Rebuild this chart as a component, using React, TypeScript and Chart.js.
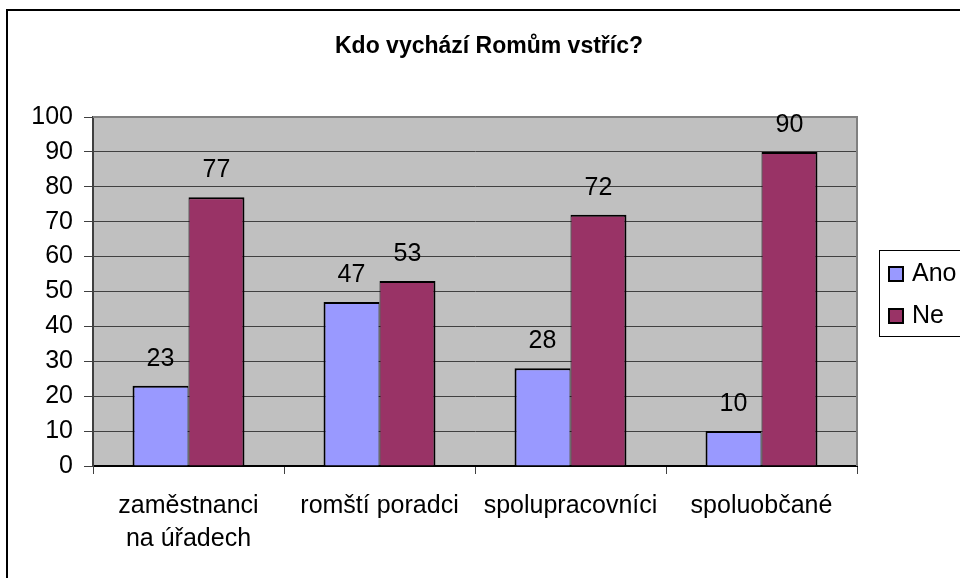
import React, { useEffect, useRef } from "react";
import { Chart, registerables } from "chart.js";

Chart.register(...registerables);

const title = "Kdo vychází Romům vstříc?";
const categories: (string | string[])[] = [
  ["zaměstnanci", "na úřadech"],
  "romští poradci",
  "spolupracovníci",
  "spoluobčané",
];
const seriesNames = ["Ano", "Ne"];
const anoValues = [23, 47, 28, 10];
const neValues = [77, 53, 72, 90];
const seriesColors = ["#9999FF", "#993366"];

const FONT = "'Liberation Sans', Arial, sans-serif";

const decorPlugin = {
  id: "decor",
  beforeDraw(chart: any) {
    const { ctx, chartArea } = chart;
    ctx.save();
    ctx.fillStyle = "#ffffff";
    ctx.fillRect(0, 0, chart.width, chart.height);
    // outer frame
    ctx.strokeStyle = "#000";
    ctx.lineWidth = 2;
    ctx.strokeRect(7, 10, 1100, 700);
    // plot area
    ctx.fillStyle = "#C0C0C0";
    ctx.fillRect(chartArea.left, chartArea.top, chartArea.right - chartArea.left, chartArea.bottom - chartArea.top);
    ctx.restore();
  },
  beforeDatasetsDraw(chart: any) {
    const { ctx, chartArea } = chart;
    ctx.save();
    ctx.strokeStyle = "#808080";
    ctx.lineWidth = 2;
    ctx.beginPath();
    ctx.moveTo(chartArea.left, chartArea.top);
    ctx.lineTo(chartArea.right, chartArea.top);
    ctx.lineTo(chartArea.right, chartArea.bottom);
    ctx.stroke();
    ctx.restore();
  },
  afterDatasetsDraw(chart: any) {
    const { ctx } = chart;
    ctx.save();
    ctx.font = `25px ${FONT}`;
    ctx.fillStyle = "#000";
    ctx.textAlign = "center";
    ctx.textBaseline = "alphabetic";
    chart.data.datasets.forEach((ds: any, di: number) => {
      const meta = chart.getDatasetMeta(di);
      meta.data.forEach((bar: any, i: number) => {
        ctx.fillText(String(ds.data[i]), bar.x, bar.y - 20);
      });
    });
    ctx.restore();
  },
  afterDraw(chart: any) {
    const { ctx } = chart;
    ctx.save();
    // title
    ctx.fillStyle = "#000";
    ctx.font = `bold 23px ${FONT}`;
    ctx.textAlign = "center";
    ctx.textBaseline = "alphabetic";
    ctx.fillText(title, 489, 53);
    // legend
    ctx.strokeStyle = "#000";
    ctx.lineWidth = 1;
    ctx.strokeRect(879.5, 250.5, 200, 86);
    ctx.font = `25px ${FONT}`;
    ctx.textAlign = "left";
    seriesNames.forEach((name, i) => {
      const y = 267 + i * 42;
      ctx.fillStyle = seriesColors[i];
      ctx.fillRect(889, y, 14, 14);
      ctx.strokeStyle = "#000";
      ctx.lineWidth = 2;
      ctx.strokeRect(889, y, 14, 14);
      ctx.fillStyle = "#000";
      ctx.fillText(name, 912, y + 14);
    });
    ctx.restore();
  },
};

export default function App() {
  const ref = useRef<HTMLCanvasElement>(null);
  useEffect(() => {
    if (!ref.current) return;
    const chart = new Chart(ref.current, {
      type: "bar",
      data: {
        labels: categories,
        datasets: [
          {
            label: seriesNames[0],
            data: anoValues,
            backgroundColor: seriesColors[0],
            borderColor: "#000",
            borderWidth: { left: 2, top: 2, right: 1, bottom: 0 },
            borderSkipped: "start",
            categoryPercentage: 0.586,
            barPercentage: 1,
          },
          {
            label: seriesNames[1],
            data: neValues,
            backgroundColor: seriesColors[1],
            borderColor: "#000",
            borderWidth: { left: 1, top: 2, right: 2, bottom: 0 },
            borderSkipped: "start",
            categoryPercentage: 0.586,
            barPercentage: 1,
          },
        ],
      },
      options: {
        responsive: false,
        animation: false,
        layout: { padding: { top: 117, right: 103, left: 0, bottom: 0 } },
        plugins: {
          legend: { display: false },
          title: { display: false },
          tooltip: { enabled: false },
        },
        scales: {
          x: {
            offset: true,
            grid: {
              display: true,
              offset: true,
              drawOnChartArea: false,
              drawTicks: true,
              tickLength: 8,
              tickColor: "#404040",
              tickWidth: 1,
            },
            border: { display: true, color: "#000", width: 2 },
            ticks: {
              color: "#000",
              font: { family: FONT, size: 25, lineHeight: 1.32 },
              padding: 16,
              maxRotation: 0,
              autoSkip: false,
            },
            afterFit(scale: any) {
              scale.height = 112;
            },
          },
          y: {
            min: 0,
            max: 100,
            ticks: {
              stepSize: 10,
              color: "#000",
              font: { family: FONT, size: 25 },
              padding: 11,
            },
            grid: {
              color: (c: any) => (c.tick && c.tick.value === 100 ? "#808080" : "#404040"),
              lineWidth: 1,
              drawTicks: true,
              tickLength: 9,
              tickColor: "#404040",
            },
            border: { display: true, color: "#404040", width: 2 },
            afterFit(scale: any) {
              scale.width = 93;
            },
          },
        },
      },
      plugins: [decorPlugin],
    });
    return () => chart.destroy();
  }, []);
  return (
    <div style={{ position: "absolute", left: 0, top: 0, width: 960, height: 578 }}>
      <canvas ref={ref} width={960} height={578} />
    </div>
  );
}
